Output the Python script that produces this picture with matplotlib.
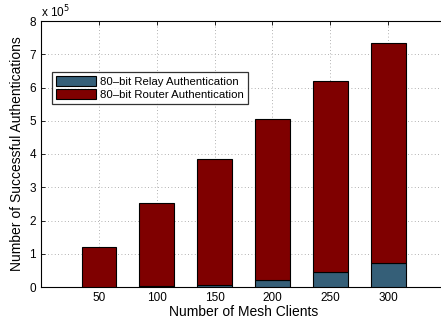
import matplotlib
matplotlib.use("Agg")
import matplotlib.pyplot as plt
import numpy as np

plt.rcParams['font.family'] = ['Liberation Sans', 'DejaVu Sans']

clients = [50, 100, 150, 200, 250, 300]
relay_auth = [0.01, 0.02, 0.07, 0.22, 0.45, 0.73]      # x 10^5
total_auth = [1.20, 2.54, 3.84, 5.06, 6.19, 7.35]      # x 10^5
router_auth = [t - r for t, r in zip(total_auth, relay_auth)]
y_ticks = [0, 1, 2, 3, 4, 5, 6, 7, 8]

blue = '#355f78'
red = '#7f0000'

fig = plt.figure(figsize=(4.41, 3.22), dpi=100)
ax = fig.add_axes([41 / 441, 1 - 287 / 322, 405 / 441, 266 / 322])

ax.bar(clients, relay_auth, width=30, color=blue, edgecolor='black', linewidth=0.8,
       label='80\u2013bit Relay Authentication', zorder=3)
ax.bar(clients, router_auth, width=30, bottom=relay_auth, color=red, edgecolor='black',
       linewidth=0.8, label='80\u2013bit Router Authentication', zorder=3)

ax.set_xlim(0, 350)
ax.set_ylim(0, 8)
ax.set_xticks(clients)
ax.set_yticks(y_ticks)
ax.tick_params(direction='in', labelsize=8.5, length=3, width=0.6, top=True, right=False)
ax.grid(True, linestyle=(0, (1, 3)), color='#999999', linewidth=0.6, zorder=0)
for s in ax.spines.values():
    s.set_linewidth(0.8)
ax.spines['right'].set_visible(False)

ax.set_xlabel('Number of Mesh Clients', fontsize=10, labelpad=1)
ax.set_ylabel('Number of Successful Authentications', fontsize=10, labelpad=4)
fig.text(41 / 441, 1 - 17 / 322, r'x 10$^5$', fontsize=8.5, ha='left', va='baseline')

leg = ax.legend(loc='upper left', bbox_to_anchor=(11 / 405, (287 - 71.7) / 266),
                fontsize=8.2, frameon=True, fancybox=False, edgecolor='black',
                borderpad=0.35, labelspacing=0.2, handlelength=3.5, handleheight=1.0,
                handletextpad=0.35, borderaxespad=0)
leg.get_frame().set_linewidth(0.9)
leg.set_zorder(5)

fig.savefig('out.png', dpi=100)
